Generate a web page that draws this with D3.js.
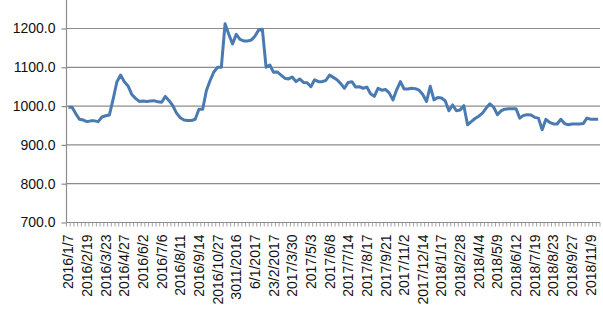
<!DOCTYPE html>
<html>
<head>
<meta charset="UTF-8">
<script src="https://d3js.org/d3.v7.min.js"></script>
<style>
  body { margin: 0; background: #fff; }
  svg { display: block; font-family: "DejaVu Sans", Verdana, sans-serif; }
  .axis text { font-size: 14px; fill: #111; }
</style>
</head>
<body>
<svg id="chart" width="603" height="315"></svg>
<script>
// weekly values, 143 points
const values = [
  997, 997, 980, 966, 964, 960, 962, 962, 960, 972,
  975, 977, 1018, 1062, 1080, 1063, 1052, 1030, 1020, 1012,
  1013, 1012, 1013, 1014, 1011, 1010, 1025, 1014, 1001, 982,
  970, 964, 963, 963, 966, 992, 992, 1040, 1066, 1088,
  1100, 1100, 1212, 1185, 1160, 1185, 1172, 1168, 1168, 1170,
  1180, 1196, 1198, 1100, 1106, 1087, 1088, 1080, 1072, 1070,
  1075, 1063, 1070, 1061, 1060, 1050, 1068, 1063, 1063, 1066,
  1080, 1074, 1068, 1058, 1046, 1061, 1063, 1049, 1050, 1046,
  1049, 1032, 1025, 1046, 1041, 1043, 1034, 1016, 1042, 1063,
  1044, 1044, 1046, 1045, 1041, 1030, 1012, 1051, 1016, 1022,
  1021, 1014, 988, 1003, 988, 990, 1001, 952, 960, 968,
  974, 982, 995, 1006, 997, 978, 988, 992, 993, 993,
  993, 969, 976, 978, 977, 971, 969, 939, 966, 958,
  954, 954, 966, 955, 952, 954, 954, 954, 955, 969,
  966, 966, 966
];

// one label every 5 points
const tickLabels = [
  "2016/1/7", "2016/2/19", "2016/3/23", "2016/4/27", "2016/6/2", "2016/7/6",
  "2016/8/11", "2016/9/14", "2016/10/27", "3011/2016", "6/1/2017", "23/2/2017",
  "2017/3/30", "2017/5/3", "2017/6/8", "2017/7/14", "2017/8/17", "2017/9/21",
  "2017/11/2", "2017/12/14", "2018/1/17", "2018/2/28", "2018/4/4", "2018/5/9",
  "2018/6/12", "2018/7/19", "2018/8/23", "2018/9/27", "2018/11/9"
];
const yTicks = [700, 800, 900, 1000, 1100, 1200];

const svg = d3.select("#chart");
const left = 66.5, right = 600, bottom = 222.5;

const x = d3.scaleBand()
    .domain(d3.range(values.length))
    .range([left, right]);

const y = d3.scaleLinear()
    .domain([700, 1200])
    .range([bottom, 28.5]);

// gridlines
svg.append("g")
    .selectAll("line")
    .data(yTicks.slice(1))
    .enter()
    .append("line")
    .attr("x1", left)
    .attr("x2", right)
    .attr("y1", d => y(d))
    .attr("y2", d => y(d))
    .attr("stroke", "#8c8c8c")
    .attr("stroke-width", 1.2);

// y axis
const yAxis = svg.append("g")
    .attr("class", "axis")
    .attr("transform", `translate(${left},0)`)
    .call(d3.axisLeft(y).tickValues(yTicks).tickFormat(d3.format(".1f")).tickSize(5).tickPadding(6));
yAxis.select(".domain").remove();
yAxis.selectAll(".tick line").attr("stroke", "#8c8c8c").attr("stroke-width", 1.2);
yAxis.append("line")
    .attr("x1", 0).attr("x2", 0)
    .attr("y1", 0).attr("y2", bottom)
    .attr("stroke", "#8c8c8c")
    .attr("stroke-width", 1.2);

// x axis
const xAxis = svg.append("g")
    .attr("class", "axis")
    .attr("transform", `translate(0,${bottom})`)
    .call(d3.axisBottom(x)
        .tickValues(d3.range(0, values.length, 5))
        .tickFormat(i => tickLabels[i / 5])
        .tickSize(0));
xAxis.select(".domain").remove();
xAxis.selectAll(".tick text")
    .attr("transform", "rotate(-90)")
    .attr("text-anchor", "end")
    .attr("x", -12)
    .attr("y", 0)
    .attr("dy", "0.36em");

xAxis.append("line")
    .attr("x1", left).attr("x2", right)
    .attr("y1", 0).attr("y2", 0)
    .attr("stroke", "#8c8c8c")
    .attr("stroke-width", 1.2);

const bounds = d3.range(values.length).map(i => x(i)).concat([right]);
xAxis.selectAll("line.minor")
    .data(bounds)
    .enter()
    .append("line")
    .attr("class", "minor")
    .attr("x1", d => d).attr("x2", d => d)
    .attr("y1", 0).attr("y2", 4)
    .attr("stroke", "#8c8c8c")
    .attr("stroke-width", 0.8);

// line
const line = d3.line()
    .x((d, i) => x(i) + x.bandwidth() / 2)
    .y(d => y(d));

svg.append("path")
    .datum(values)
    .attr("fill", "none")
    .attr("stroke", "#4a7ab2")
    .attr("stroke-width", 3)
    .attr("stroke-linejoin", "round")
    .attr("d", line);
</script>
</body>
</html>
